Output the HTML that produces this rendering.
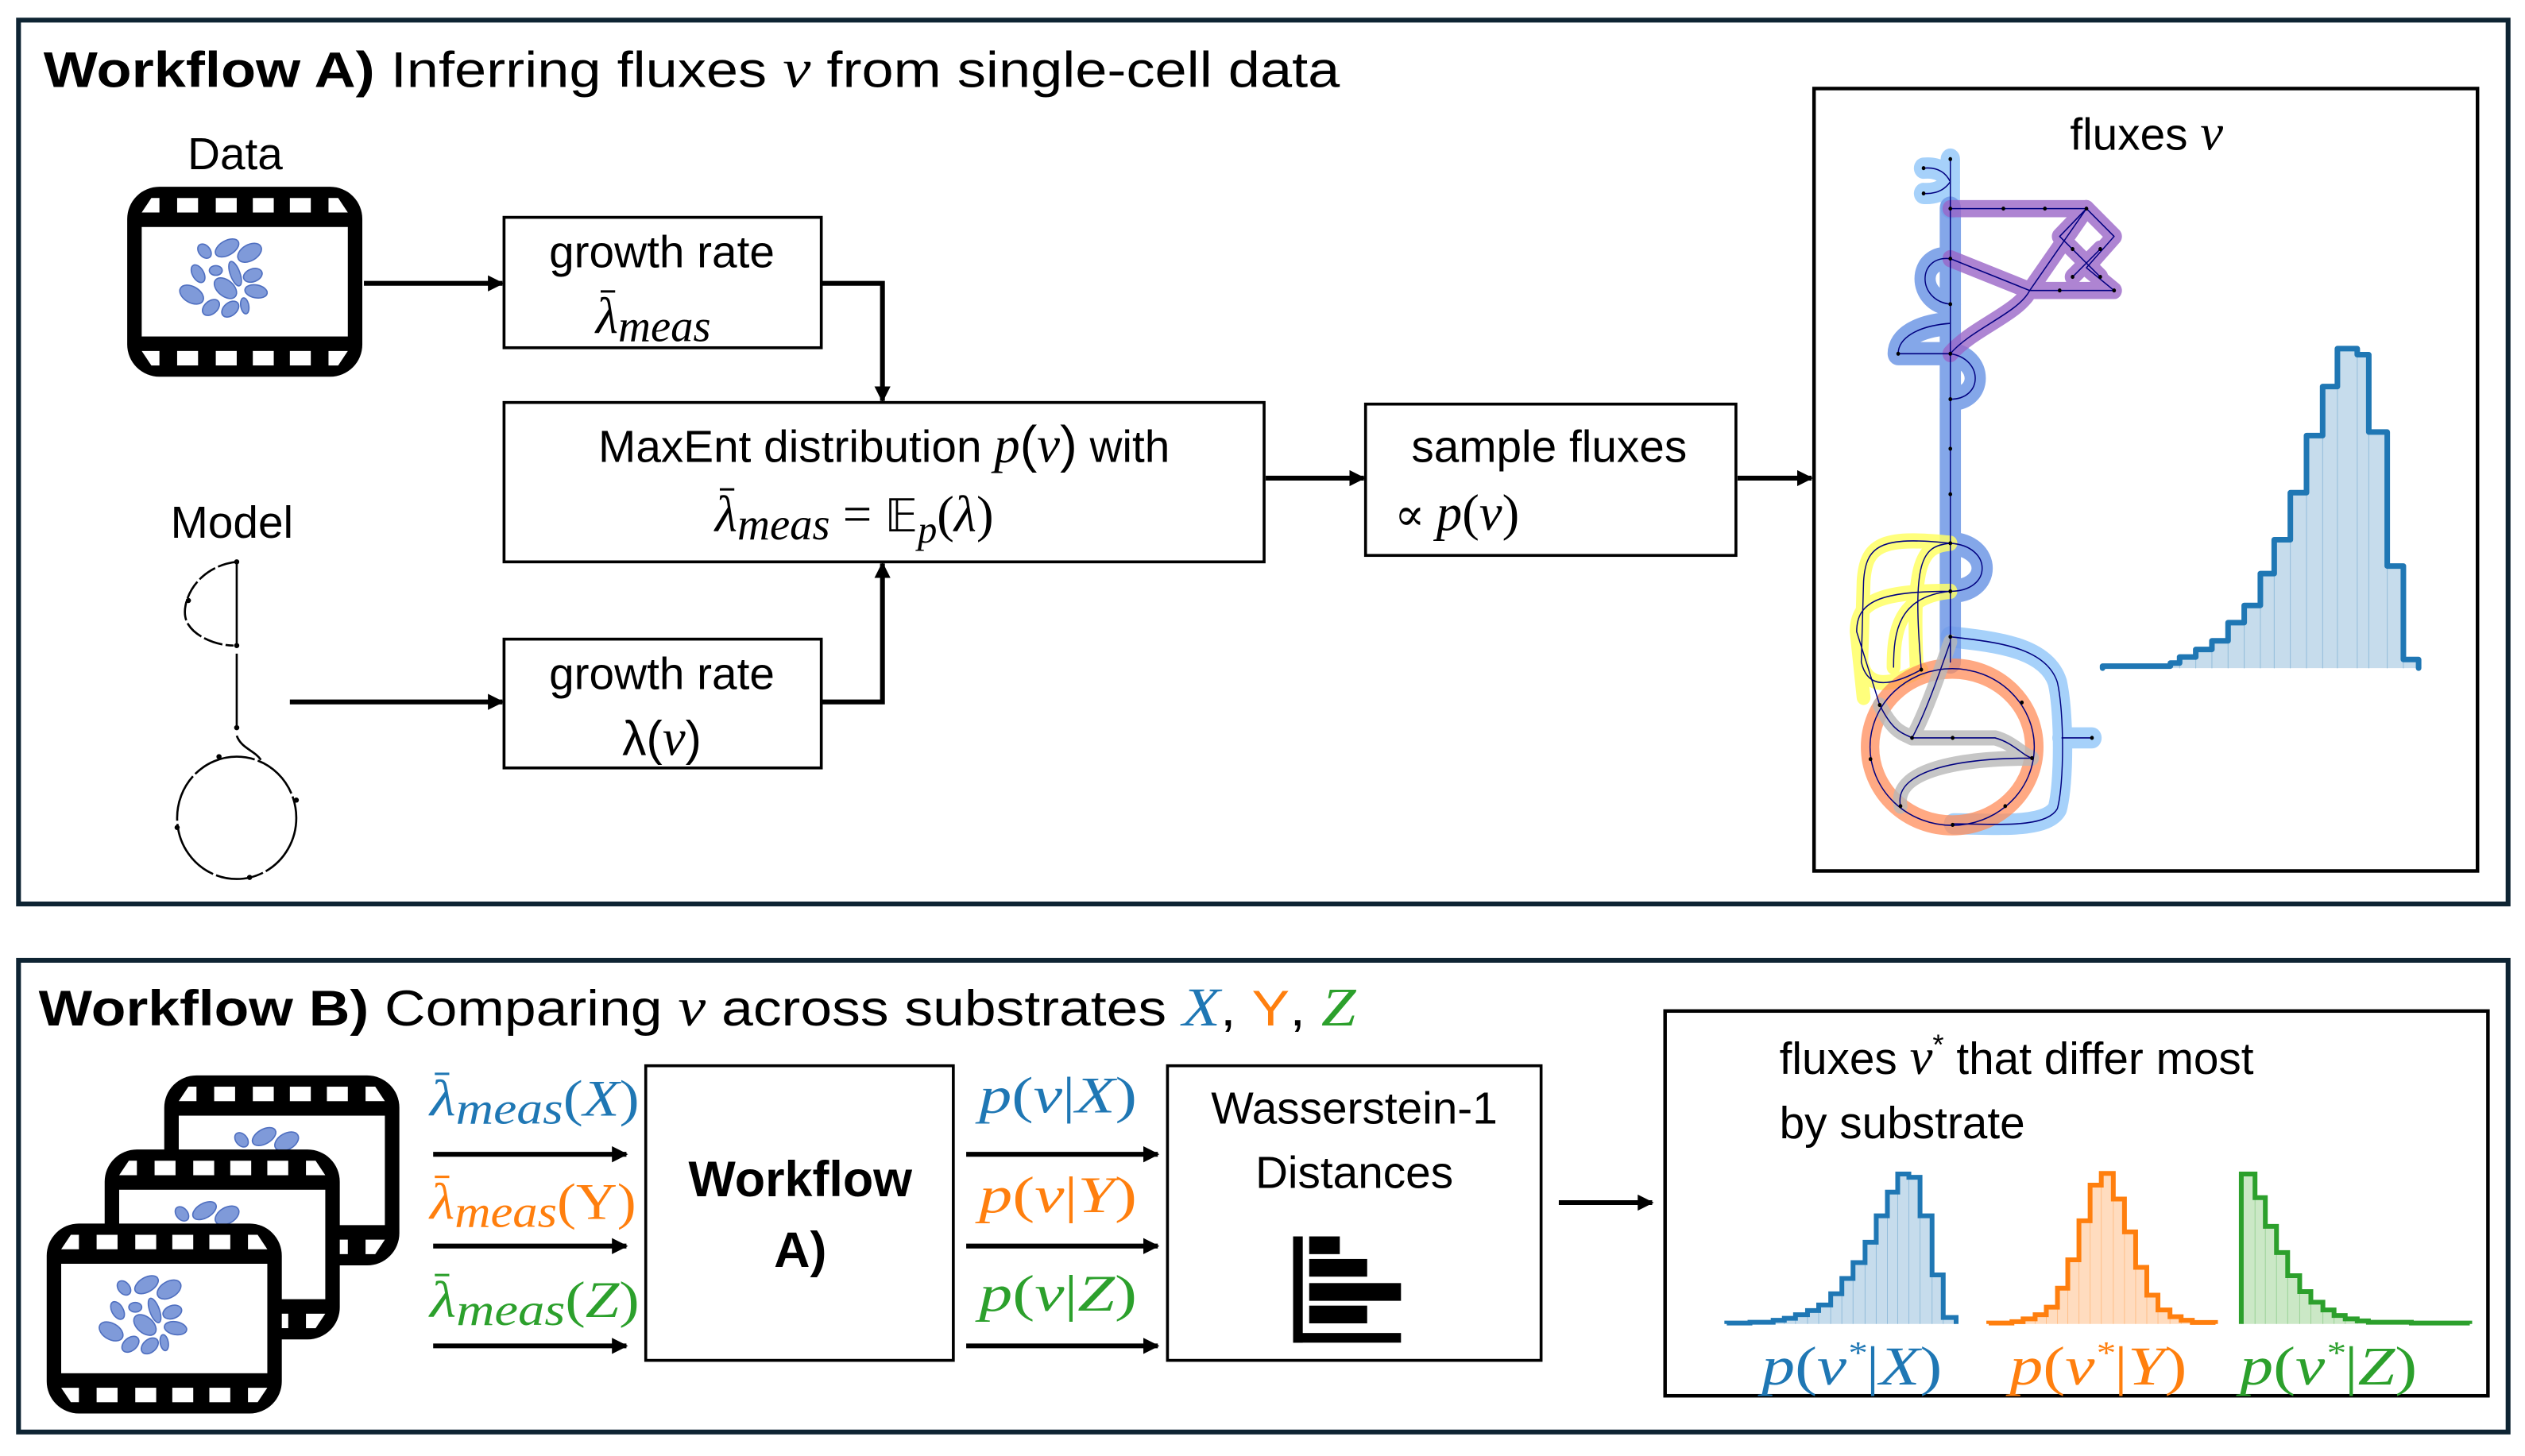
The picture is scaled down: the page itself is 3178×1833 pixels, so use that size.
<!DOCTYPE html>
<html><head><meta charset="utf-8"><style>
html,body{margin:0;padding:0;background:#fff;}
svg{display:block;}
.t{font-family:"Liberation Sans",sans-serif;fill:#000;}
.m{font-family:"Liberation Serif","DejaVu Serif",serif;font-style:italic;}
</style></head><body>
<svg id="s" width="3178" height="1833" viewBox="0 0 1568 904.4" preserveAspectRatio="none" xmlns="http://www.w3.org/2000/svg">
<defs>
<marker id="ah" markerWidth="10" markerHeight="10" refX="9" refY="5" orient="auto" markerUnits="userSpaceOnUse">
<path d="M0,0 L10,5 L0,10 z" fill="#000"/></marker>
<g id="film">
<rect x="0" y="0" width="146" height="118" rx="20" fill="#000"/>
<rect x="9" y="25" width="128" height="68" fill="#fff"/>
<g fill="#fff">
<path d="M9,16 L15,7 L20,7 L20,16z"/><rect x="31" y="7" width="13" height="9"/><rect x="55" y="7" width="13" height="9"/><rect x="78" y="7" width="13" height="9"/><rect x="101" y="7" width="13" height="9"/><path d="M125,7 L131,7 L137,16 L125,16z"/>
<path d="M9,102 L20,102 L20,111 L15,111z"/><rect x="31" y="102" width="13" height="9"/><rect x="55" y="102" width="13" height="9"/><rect x="78" y="102" width="13" height="9"/><rect x="101" y="102" width="13" height="9"/><path d="M125,102 L137,102 L131,111 L125,111z"/>
</g>
<g fill="#7f9ad9" stroke="#4f6fc0" stroke-width="0.8">
<ellipse cx="48" cy="40" rx="5" ry="3.5" transform="rotate(50 48 40)"/>
<ellipse cx="62" cy="38" rx="8" ry="4.5" transform="rotate(-30 62 38)"/>
<ellipse cx="76" cy="41" rx="8" ry="5" transform="rotate(-30 76 41)"/>
<ellipse cx="55" cy="52" rx="4" ry="3"/>
<ellipse cx="67" cy="54" rx="8" ry="3" transform="rotate(70 67 54)"/>
<ellipse cx="78" cy="55" rx="6" ry="4" transform="rotate(-20 78 55)"/>
<ellipse cx="44" cy="54" rx="6" ry="3.5" transform="rotate(60 44 54)"/>
<ellipse cx="61" cy="63" rx="8" ry="5" transform="rotate(40 61 63)"/>
<ellipse cx="40" cy="67" rx="8" ry="5" transform="rotate(30 40 67)"/>
<ellipse cx="80" cy="65" rx="7" ry="4" transform="rotate(10 80 65)"/>
<ellipse cx="52" cy="75" rx="6" ry="4" transform="rotate(-40 52 75)"/>
<ellipse cx="64" cy="76" rx="6" ry="4" transform="rotate(-40 64 76)"/>
<ellipse cx="73" cy="74" rx="5" ry="2.5" transform="rotate(80 73 74)"/>
</g>
</g>
</defs>

<!-- Panel A -->
<rect x="11.5" y="12.5" width="1546" height="549" fill="none" stroke="#0e2433" stroke-width="3"/>
<text class="t" x="27" y="54" font-size="31" textLength="805" lengthAdjust="spacingAndGlyphs"><tspan font-weight="bold">Workflow A)</tspan> Inferring fluxes <tspan class="m" font-size="34">v</tspan> from single-cell data</text>
<text class="t" x="146" y="105" font-size="28" text-anchor="middle">Data</text>
<use href="#film" x="79" y="116"/>
<text class="t" x="144" y="334" font-size="28" text-anchor="middle">Model</text>
<g fill="none" stroke="#000" stroke-width="1.3">
<path d="M147,349 C120,352 110,378 117,388 C122,396 135,401 145,401" stroke-dasharray="12 2"/>
<path d="M147,349 L147,400"/><path d="M147,406 L147,452"/>
<path d="M147,457 C150,465 158,466 162,472"/>
<ellipse cx="147" cy="508" rx="37" ry="38" stroke-dasharray="40 2 30 2"/>
</g>
<g fill="#000"><circle cx="147" cy="349" r="1.6"/><circle cx="117" cy="373" r="1.6"/><circle cx="147" cy="401" r="1.6"/><circle cx="147" cy="452" r="1.6"/><circle cx="184" cy="497" r="1.6"/><circle cx="110" cy="514" r="1.6"/><circle cx="155" cy="545" r="1.6"/><circle cx="136" cy="470" r="1.6"/></g>

<g fill="none" stroke="#000" stroke-width="1.8">
<rect x="313" y="135" width="197" height="81"/>
<rect x="313" y="250" width="472" height="99"/>
<rect x="848" y="251" width="230" height="94"/>
<rect x="313" y="397" width="197" height="80"/>
<rect x="1126.5" y="55" width="412" height="486" stroke-width="2.2"/>
</g>
<g fill="none" stroke="#000" stroke-width="3" marker-end="url(#ah)">
<path d="M226,176 L312,176"/>
<path d="M510,176 L548,176 L548,249"/>
<path d="M180,436 L312,436"/>
<path d="M510,436 L548,436 L548,350"/>
<path d="M786,297 L847,297"/>
<path d="M1079,297 L1125,297"/>
</g>
<text class="t" x="411" y="166" font-size="28" text-anchor="middle">growth rate</text>
<text class="m" x="370" y="207" font-size="32">λ<tspan font-size="28" dy="5">meas</tspan></text>
<line x1="373" y1="181" x2="382" y2="181" stroke="#000" stroke-width="1.5"/>
<text class="t" x="549" y="287" font-size="28" text-anchor="middle">MaxEnt distribution <tspan class="m" font-size="32">p</tspan><tspan font-size="32">(</tspan><tspan class="m" font-size="32">v</tspan><tspan font-size="32">)</tspan> with</text>
<text class="m" x="444" y="330" font-size="32">λ<tspan font-size="28" dy="5">meas</tspan><tspan dy="-5" font-style="normal"> = </tspan><tspan font-style="normal" font-family="DejaVu Sans,sans-serif" font-size="28">𝔼</tspan><tspan font-size="24" dy="7">p</tspan><tspan dy="-7" font-style="normal">(</tspan>λ<tspan font-style="normal">)</tspan></text>
<line x1="447" y1="304" x2="456" y2="304" stroke="#000" stroke-width="1.5"/>
<text class="t" x="962" y="287" font-size="28" text-anchor="middle">sample fluxes</text>
<text class="m" x="866" y="329" font-size="32"><tspan font-style="normal" font-size="28">∝ </tspan>p<tspan font-style="normal">(</tspan>v<tspan font-style="normal">)</tspan></text>
<text class="t" x="411" y="428" font-size="28" text-anchor="middle">growth rate</text>
<text class="t" x="411" y="469" font-size="30" text-anchor="middle">λ(<tspan class="m" font-size="32">v</tspan>)</text>
<text class="t" x="1333" y="93" font-size="28" text-anchor="middle">fluxes <tspan class="m" font-size="32">v</tspan></text>

<!-- flux network (zoom coords) -->
<g transform="translate(1110,47) scale(0.2865,0.314)" fill="none" stroke-linecap="round" stroke-linejoin="round">
<g stroke="#a6d1fa" stroke-width="42">
<path d="M353,165 L353,262"/>
<path d="M295,183 C330,180 345,195 353,210 M295,233 C330,235 345,220 353,210"/>
<path d="M353,1110 C450,1120 560,1130 585,1200 C600,1260 600,1400 585,1450 C560,1490 450,1480 360,1480 M595,1310 L660,1310"/>
</g>
<g stroke="#6f98e6" stroke-width="46" opacity="0.85">
<path d="M353,262 L353,1160"/>
<path d="M353,362 C280,355 280,445 353,452"/>
<path d="M353,490 C280,495 240,520 240,550 L353,550"/>
<path d="M353,550 C425,560 425,640 353,640"/>
<path d="M353,925 C445,930 445,1020 353,1020"/>
</g>
<g stroke="#9a66c8" stroke-width="34" opacity="0.8">
<path d="M353,263 L648,263 L708,318 L648,380 L708,425 L525,425"/>
<path d="M353,362 L525,425 C500,470 400,500 353,550"/>
<path d="M525,425 L648,263 M590,318 L678,398 M618,398 L678,343 M590,318 L648,263"/>
</g>
<g stroke="#ffff66" stroke-width="30" opacity="0.85">
<path d="M353,925 C200,910 170,930 165,1000 L160,1160 C170,1200 200,1220 290,1175"/>
<path d="M353,1020 C200,1020 150,1040 150,1100 L165,1230"/>
<path d="M353,925 C290,930 270,960 280,1170"/>
<path d="M353,1020 C240,1030 230,1100 230,1170"/>
</g>
<ellipse cx="357" cy="1328" rx="178" ry="155" stroke="#ff8c5a" stroke-width="40" opacity="0.75"/>
<g stroke="#b8b8b8" stroke-width="30" opacity="0.8">
<path d="M353,1120 C330,1180 300,1260 270,1310 L450,1310 C490,1320 510,1345 530,1350"/>
<path d="M245,1445 C230,1380 350,1350 530,1350"/>
<path d="M200,1245 C230,1300 250,1300 270,1310"/>
</g>
<g stroke="#000080" stroke-width="2.5">
<path d="M353,165 L353,1160"/>
<path d="M295,183 C330,180 345,195 353,210 M295,233 C330,235 345,220 353,210"/>
<path d="M353,362 C280,355 280,445 353,452 M353,490 C280,495 240,520 240,550 L353,550 M353,550 C425,560 425,640 353,640 M353,925 C445,930 445,1020 353,1020"/>
<path d="M353,263 L648,263 L708,318 L648,380 L708,425 L525,425 M353,362 L525,425 C500,470 400,500 353,550 M525,425 L648,263 M590,318 L678,398 M618,398 L678,343 M590,318 L648,263"/>
<path d="M353,925 C200,910 170,930 165,1000 L160,1160 C170,1200 200,1220 290,1175 M353,1020 C200,1020 150,1040 150,1100 L200,1245 M353,925 C290,930 270,960 290,1175 M353,1020 C240,1030 230,1100 230,1170"/>
<ellipse cx="357" cy="1328" rx="178" ry="155"/>
<path d="M353,1120 C330,1180 300,1260 270,1310 L450,1310 C490,1320 510,1345 530,1350 M245,1445 C230,1380 350,1350 530,1350 M200,1245 C230,1300 250,1300 270,1310"/>
<path d="M353,1110 C450,1120 560,1130 585,1200 C600,1260 600,1400 585,1450 C560,1490 450,1480 360,1480 M595,1310 L660,1310"/>
</g>
<g fill="#000">
<circle cx="353" cy="165" r="4"/><circle cx="295" cy="183" r="4"/><circle cx="295" cy="233" r="4"/><circle cx="353" cy="263" r="4"/><circle cx="468" cy="263" r="4"/><circle cx="558" cy="263" r="4"/><circle cx="648" cy="263" r="4"/><circle cx="353" cy="362" r="4"/><circle cx="353" cy="452" r="4"/><circle cx="353" cy="550" r="4"/><circle cx="240" cy="550" r="4"/><circle cx="353" cy="640" r="4"/><circle cx="353" cy="738" r="4"/><circle cx="353" cy="828" r="4"/><circle cx="353" cy="925" r="4"/><circle cx="353" cy="1020" r="4"/><circle cx="353" cy="1110" r="4"/><circle cx="618" cy="343" r="4"/><circle cx="678" cy="343" r="4"/><circle cx="618" cy="398" r="4"/><circle cx="678" cy="398" r="4"/><circle cx="590" cy="425" r="4"/><circle cx="708" cy="425" r="4"/><circle cx="660" cy="1310" r="4"/><circle cx="358" cy="1310" r="4"/><circle cx="270" cy="1310" r="4"/><circle cx="530" cy="1350" r="4"/><circle cx="200" cy="1245" r="4"/><circle cx="245" cy="1445" r="4"/><circle cx="358" cy="1482" r="4"/><circle cx="472" cy="1445" r="4"/><circle cx="180" cy="1352" r="4"/><circle cx="508" cy="1240" r="4"/><circle cx="290" cy="1175" r="4"/>
</g>
<g id="histA"></g>
</g>

<!-- Panel B -->
<rect x="11.5" y="596.5" width="1546" height="293" fill="none" stroke="#0e2433" stroke-width="3"/>
<text class="t" x="24" y="637" font-size="31" textLength="818" lengthAdjust="spacingAndGlyphs"><tspan font-weight="bold">Workflow B)</tspan> Comparing <tspan class="m" font-size="34">v</tspan> across substrates <tspan class="m" fill="#1f77b4" font-size="34">X</tspan>, <tspan fill="#ff7f0e">Y</tspan>, <tspan class="m" fill="#2ca02c" font-size="34">Z</tspan></text>
<use href="#film" x="102" y="668"/>
<use href="#film" x="65" y="714"/>
<use href="#film" x="29" y="760"/>
<g fill="none" stroke="#000" stroke-width="3" marker-end="url(#ah)">
<path d="M269,717 L389,717"/><path d="M269,774 L389,774"/><path d="M269,836 L389,836"/>
<path d="M600,717 L719,717"/><path d="M600,774 L719,774"/><path d="M600,836 L719,836"/>
<path d="M968,747 L1026,747"/>
</g>
<text class="m" x="267" y="693" font-size="32" fill="#1f77b4" textLength="130" lengthAdjust="spacingAndGlyphs">λ<tspan font-size="28" dy="5">meas</tspan><tspan dy="-5" font-style="normal">(</tspan>X<tspan font-style="normal">)</tspan></text>
<line x1="270" y1="667" x2="279" y2="667" stroke="#1f77b4" stroke-width="1.5"/>
<text class="m" x="267" y="757" font-size="32" fill="#ff7f0e" textLength="128" lengthAdjust="spacingAndGlyphs">λ<tspan font-size="28" dy="5">meas</tspan><tspan dy="-5" font-style="normal">(Y)</tspan></text>
<line x1="270" y1="731" x2="279" y2="731" stroke="#ff7f0e" stroke-width="1.5"/>
<text class="m" x="267" y="818" font-size="32" fill="#2ca02c" textLength="130" lengthAdjust="spacingAndGlyphs">λ<tspan font-size="28" dy="5">meas</tspan><tspan dy="-5" font-style="normal">(</tspan>Z<tspan font-style="normal">)</tspan></text>
<line x1="270" y1="792" x2="279" y2="792" stroke="#2ca02c" stroke-width="1.5"/>
<g fill="none" stroke="#000" stroke-width="1.8">
<rect x="401" y="662" width="191" height="183"/>
<rect x="725" y="662" width="232" height="183"/>
<rect x="1034" y="628" width="511" height="239" stroke-width="2.2"/>
</g>
<text class="t" x="497" y="743" font-size="31" font-weight="bold" text-anchor="middle">Workflow</text>
<text class="t" x="497" y="787" font-size="31" font-weight="bold" text-anchor="middle">A)</text>
<text class="m" x="608" y="691" font-size="32" fill="#1f77b4" textLength="98" lengthAdjust="spacingAndGlyphs">p<tspan font-style="normal">(</tspan>v<tspan font-style="normal">|</tspan>X<tspan font-style="normal">)</tspan></text>
<text class="m" x="608" y="753" font-size="32" fill="#ff7f0e" textLength="98" lengthAdjust="spacingAndGlyphs">p<tspan font-style="normal">(</tspan>v<tspan font-style="normal">|</tspan>Y<tspan font-style="normal">)</tspan></text>
<text class="m" x="608" y="814" font-size="32" fill="#2ca02c" textLength="98" lengthAdjust="spacingAndGlyphs">p<tspan font-style="normal">(</tspan>v<tspan font-style="normal">|</tspan>Z<tspan font-style="normal">)</tspan></text>
<text class="t" x="841" y="698" font-size="28" text-anchor="middle">Wasserstein-1</text>
<text class="t" x="841" y="738" font-size="28" text-anchor="middle">Distances</text>
<g fill="#000">
<rect x="803" y="768" width="6" height="66"/>
<rect x="813" y="768" width="19" height="11"/>
<rect x="813" y="782" width="36" height="11"/>
<rect x="813" y="797" width="57" height="11"/>
<rect x="813" y="811" width="36" height="11"/>
<rect x="803" y="828" width="67" height="6"/>
</g>
<text class="t" x="1105" y="667" font-size="28">fluxes <tspan class="m" font-size="32">v</tspan><tspan font-size="18" dy="-12">*</tspan><tspan dy="12"> that differ most</tspan></text>
<text class="t" x="1105" y="707" font-size="28">by substrate</text>
<g id="histB"></g>
<text class="m" x="1150" y="860" font-size="34" fill="#1f77b4" text-anchor="middle" textLength="112" lengthAdjust="spacingAndGlyphs">p<tspan font-style="normal">(</tspan>v<tspan font-size="20" dy="-13">*</tspan><tspan dy="13" font-style="normal">|</tspan>X<tspan font-style="normal">)</tspan></text>
<text class="m" x="1303" y="860" font-size="34" fill="#ff7f0e" text-anchor="middle" textLength="110" lengthAdjust="spacingAndGlyphs">p<tspan font-style="normal">(</tspan>v<tspan font-size="20" dy="-13">*</tspan><tspan dy="13" font-style="normal">|</tspan>Y<tspan font-style="normal">)</tspan></text>
<text class="m" x="1446" y="860" font-size="34" fill="#2ca02c" text-anchor="middle" textLength="110" lengthAdjust="spacingAndGlyphs">p<tspan font-style="normal">(</tspan>v<tspan font-size="20" dy="-13">*</tspan><tspan dy="13" font-style="normal">|</tspan>Z<tspan font-style="normal">)</tspan></text>
</svg>
<script>
var NS="http://www.w3.org/2000/svg";
function hist(parent,base,bins,color,fill,sw,tf){
  var g=document.createElementNS(NS,"g");
  if(tf)g.setAttribute("transform",tf);
  var d="M"+bins[0][0]+","+base, lines="";
  for(var i=0;i<bins.length;i++){var b=bins[i];d+=" L"+b[0]+","+b[2]+" L"+b[1]+","+b[2];
    if(i>0)lines+="M"+b[0]+","+base+" L"+b[0]+","+Math.max(b[2],bins[i-1][2])+" ";}
  var last=bins[bins.length-1];d+=" L"+last[1]+","+base;var f=d+" Z";
  var p1=document.createElementNS(NS,"path");p1.setAttribute("d",f);p1.setAttribute("fill",fill);g.appendChild(p1);
  var p3=document.createElementNS(NS,"path");p3.setAttribute("d",lines);p3.setAttribute("stroke",color);p3.setAttribute("stroke-opacity","0.3");p3.setAttribute("stroke-width","1");p3.setAttribute("fill","none");p3.setAttribute("vector-effect","non-scaling-stroke");g.appendChild(p3);
  var p2=document.createElementNS(NS,"path");p2.setAttribute("d",d);p2.setAttribute("stroke",color);p2.setAttribute("stroke-width",sw);p2.setAttribute("fill","none");p2.setAttribute("vector-effect","non-scaling-stroke");g.appendChild(p2);
  parent.appendChild(g);
}
function mk(xs,ys){var r=[];for(var i=0;i<ys.length;i++)r.push([xs[i],xs[i+1],ys[i]]);return r;}
hist(document.getElementById("histA"),1172,mk([683,830,850,885,920,955,990,1025,1055,1090,1125,1160,1192,1235,1260,1300,1335,1368],[1168,1162,1150,1135,1118,1082,1048,985,918,825,712,615,540,552,705,970,1155]),"#1f77b4","#c6dcec",7,null);
var T="translate(740,616.7) scale(0.5334,0.1731)";
var hb=document.getElementById("histB");
hist(hb,1188,mk([623,650,677,690,703,717,730,744,757,770,784,797,810,822,835,848,862,875,890],[1185,1182,1175,1168,1155,1140,1120,1080,1025,968,895,800,715,650,662,800,1012,1165]),"#1f77b4","#c6dcec",6,T);
hist(hb,1188,mk([928,955,968,982,995,1008,1020,1033,1046,1059,1073,1086,1099,1112,1125,1139,1152,1165,1192],[1185,1180,1170,1155,1128,1060,958,818,690,648,740,858,985,1085,1138,1162,1175,1183]),"#ff7f0e","#ffdcbf",6,T);
hist(hb,1188,mk([1222,1238,1250,1263,1276,1290,1303,1317,1330,1343,1357,1370,1420,1488],[650,735,838,932,1015,1072,1110,1138,1158,1170,1177,1182,1185]),"#2ca02c","#cbe8c6",6,T);
</script>
</body></html>
